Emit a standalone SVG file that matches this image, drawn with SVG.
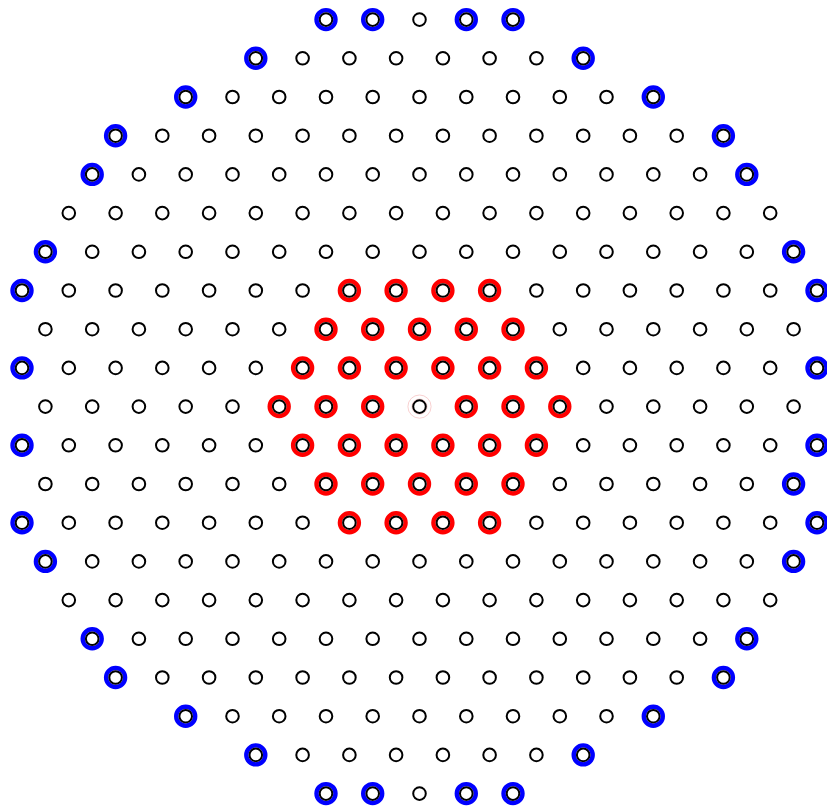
<svg xmlns="http://www.w3.org/2000/svg" xmlns:xlink="http://www.w3.org/1999/xlink" width="827" height="807" viewBox="0 0 827 807">
<style>
.k{fill:#fff;stroke:#000;stroke-width:2}
.bl{fill:none;stroke:#0000ff;stroke-width:4.4}
.rd{fill:none;stroke:#ff0000;stroke-width:4.4}
.pk{fill:none;stroke:#f6c4c4;stroke-width:0.8}
</style>
<defs>
<circle id="P" class="k" r="6.3"/>
<g id="B"><circle class="bl" r="9.5"/><circle class="k" r="6.3"/></g>
<g id="R"><circle class="rd" r="9.5"/><circle class="k" r="6.3"/></g>
<g id="C"><circle class="pk" r="11.6"/><circle class="pk" r="7.6"/><circle class="k" r="6.3"/></g>
</defs>
<rect width="827" height="807" fill="#fff"/>
<g id="connectors"/>
<g id="nodes">
<!-- row 0 -->
<g id="n0-0"><use href="#B" x="326" y="19.6"/></g>
<g id="n0-1"><use href="#B" x="372.7" y="19.6"/></g>
<g id="n0-2"><use href="#P" x="419.5" y="19.6"/></g>
<g id="n0-3"><use href="#B" x="466.3" y="19.6"/></g>
<g id="n0-4"><use href="#B" x="513" y="19.6"/></g>
<!-- row 1 -->
<g id="n1-0"><use href="#B" x="255.8" y="58.3"/></g>
<g id="n1-1"><use href="#P" x="302.6" y="58.3"/></g>
<g id="n1-2"><use href="#P" x="349.4" y="58.3"/></g>
<g id="n1-3"><use href="#P" x="396.1" y="58.3"/></g>
<g id="n1-4"><use href="#P" x="442.9" y="58.3"/></g>
<g id="n1-5"><use href="#P" x="489.6" y="58.3"/></g>
<g id="n1-6"><use href="#P" x="536.4" y="58.3"/></g>
<g id="n1-7"><use href="#B" x="583.2" y="58.3"/></g>
<!-- row 2 -->
<g id="n2-0"><use href="#B" x="185.7" y="97"/></g>
<g id="n2-1"><use href="#P" x="232.5" y="97"/></g>
<g id="n2-2"><use href="#P" x="279.2" y="97"/></g>
<g id="n2-3"><use href="#P" x="326" y="97"/></g>
<g id="n2-4"><use href="#P" x="372.7" y="97"/></g>
<g id="n2-5"><use href="#P" x="419.5" y="97"/></g>
<g id="n2-6"><use href="#P" x="466.3" y="97"/></g>
<g id="n2-7"><use href="#P" x="513" y="97"/></g>
<g id="n2-8"><use href="#P" x="559.8" y="97"/></g>
<g id="n2-9"><use href="#P" x="606.5" y="97"/></g>
<g id="n2-10"><use href="#B" x="653.3" y="97"/></g>
<!-- row 3 -->
<g id="n3-0"><use href="#B" x="115.6" y="135.7"/></g>
<g id="n3-1"><use href="#P" x="162.3" y="135.7"/></g>
<g id="n3-2"><use href="#P" x="209.1" y="135.7"/></g>
<g id="n3-3"><use href="#P" x="255.8" y="135.7"/></g>
<g id="n3-4"><use href="#P" x="302.6" y="135.7"/></g>
<g id="n3-5"><use href="#P" x="349.4" y="135.7"/></g>
<g id="n3-6"><use href="#P" x="396.1" y="135.7"/></g>
<g id="n3-7"><use href="#P" x="442.9" y="135.7"/></g>
<g id="n3-8"><use href="#P" x="489.6" y="135.7"/></g>
<g id="n3-9"><use href="#P" x="536.4" y="135.7"/></g>
<g id="n3-10"><use href="#P" x="583.2" y="135.7"/></g>
<g id="n3-11"><use href="#P" x="629.9" y="135.7"/></g>
<g id="n3-12"><use href="#P" x="676.7" y="135.7"/></g>
<g id="n3-13"><use href="#B" x="723.4" y="135.7"/></g>
<!-- row 4 -->
<g id="n4-0"><use href="#B" x="92.2" y="174.4"/></g>
<g id="n4-1"><use href="#P" x="138.9" y="174.4"/></g>
<g id="n4-2"><use href="#P" x="185.7" y="174.4"/></g>
<g id="n4-3"><use href="#P" x="232.5" y="174.4"/></g>
<g id="n4-4"><use href="#P" x="279.2" y="174.4"/></g>
<g id="n4-5"><use href="#P" x="326" y="174.4"/></g>
<g id="n4-6"><use href="#P" x="372.7" y="174.4"/></g>
<g id="n4-7"><use href="#P" x="419.5" y="174.4"/></g>
<g id="n4-8"><use href="#P" x="466.3" y="174.4"/></g>
<g id="n4-9"><use href="#P" x="513" y="174.4"/></g>
<g id="n4-10"><use href="#P" x="559.8" y="174.4"/></g>
<g id="n4-11"><use href="#P" x="606.5" y="174.4"/></g>
<g id="n4-12"><use href="#P" x="653.3" y="174.4"/></g>
<g id="n4-13"><use href="#P" x="700.1" y="174.4"/></g>
<g id="n4-14"><use href="#B" x="746.8" y="174.4"/></g>
<!-- row 5 -->
<g id="n5-0"><use href="#P" x="68.8" y="213.1"/></g>
<g id="n5-1"><use href="#P" x="115.6" y="213.1"/></g>
<g id="n5-2"><use href="#P" x="162.3" y="213.1"/></g>
<g id="n5-3"><use href="#P" x="209.1" y="213.1"/></g>
<g id="n5-4"><use href="#P" x="255.8" y="213.1"/></g>
<g id="n5-5"><use href="#P" x="302.6" y="213.1"/></g>
<g id="n5-6"><use href="#P" x="349.4" y="213.1"/></g>
<g id="n5-7"><use href="#P" x="396.1" y="213.1"/></g>
<g id="n5-8"><use href="#P" x="442.9" y="213.1"/></g>
<g id="n5-9"><use href="#P" x="489.6" y="213.1"/></g>
<g id="n5-10"><use href="#P" x="536.4" y="213.1"/></g>
<g id="n5-11"><use href="#P" x="583.2" y="213.1"/></g>
<g id="n5-12"><use href="#P" x="629.9" y="213.1"/></g>
<g id="n5-13"><use href="#P" x="676.7" y="213.1"/></g>
<g id="n5-14"><use href="#P" x="723.4" y="213.1"/></g>
<g id="n5-15"><use href="#P" x="770.2" y="213.1"/></g>
<!-- row 6 -->
<g id="n6-0"><use href="#B" x="45.4" y="251.8"/></g>
<g id="n6-1"><use href="#P" x="92.2" y="251.8"/></g>
<g id="n6-2"><use href="#P" x="138.9" y="251.8"/></g>
<g id="n6-3"><use href="#P" x="185.7" y="251.8"/></g>
<g id="n6-4"><use href="#P" x="232.5" y="251.8"/></g>
<g id="n6-5"><use href="#P" x="279.2" y="251.8"/></g>
<g id="n6-6"><use href="#P" x="326" y="251.8"/></g>
<g id="n6-7"><use href="#P" x="372.7" y="251.8"/></g>
<g id="n6-8"><use href="#P" x="419.5" y="251.8"/></g>
<g id="n6-9"><use href="#P" x="466.3" y="251.8"/></g>
<g id="n6-10"><use href="#P" x="513" y="251.8"/></g>
<g id="n6-11"><use href="#P" x="559.8" y="251.8"/></g>
<g id="n6-12"><use href="#P" x="606.5" y="251.8"/></g>
<g id="n6-13"><use href="#P" x="653.3" y="251.8"/></g>
<g id="n6-14"><use href="#P" x="700.1" y="251.8"/></g>
<g id="n6-15"><use href="#P" x="746.8" y="251.8"/></g>
<g id="n6-16"><use href="#B" x="793.6" y="251.8"/></g>
<!-- row 7 -->
<g id="n7-0"><use href="#B" x="22" y="290.5"/></g>
<g id="n7-1"><use href="#P" x="68.8" y="290.5"/></g>
<g id="n7-2"><use href="#P" x="115.6" y="290.5"/></g>
<g id="n7-3"><use href="#P" x="162.3" y="290.5"/></g>
<g id="n7-4"><use href="#P" x="209.1" y="290.5"/></g>
<g id="n7-5"><use href="#P" x="255.8" y="290.5"/></g>
<g id="n7-6"><use href="#P" x="302.6" y="290.5"/></g>
<g id="n7-7"><use href="#R" x="349.4" y="290.5"/></g>
<g id="n7-8"><use href="#R" x="396.1" y="290.5"/></g>
<g id="n7-9"><use href="#R" x="442.9" y="290.5"/></g>
<g id="n7-10"><use href="#R" x="489.6" y="290.5"/></g>
<g id="n7-11"><use href="#P" x="536.4" y="290.5"/></g>
<g id="n7-12"><use href="#P" x="583.2" y="290.5"/></g>
<g id="n7-13"><use href="#P" x="629.9" y="290.5"/></g>
<g id="n7-14"><use href="#P" x="676.7" y="290.5"/></g>
<g id="n7-15"><use href="#P" x="723.4" y="290.5"/></g>
<g id="n7-16"><use href="#P" x="770.2" y="290.5"/></g>
<g id="n7-17"><use href="#B" x="817" y="290.5"/></g>
<!-- row 8 -->
<g id="n8-0"><use href="#P" x="45.4" y="329.2"/></g>
<g id="n8-1"><use href="#P" x="92.2" y="329.2"/></g>
<g id="n8-2"><use href="#P" x="138.9" y="329.2"/></g>
<g id="n8-3"><use href="#P" x="185.7" y="329.2"/></g>
<g id="n8-4"><use href="#P" x="232.5" y="329.2"/></g>
<g id="n8-5"><use href="#P" x="279.2" y="329.2"/></g>
<g id="n8-6"><use href="#R" x="326" y="329.2"/></g>
<g id="n8-7"><use href="#R" x="372.7" y="329.2"/></g>
<g id="n8-8"><use href="#R" x="419.5" y="329.2"/></g>
<g id="n8-9"><use href="#R" x="466.3" y="329.2"/></g>
<g id="n8-10"><use href="#R" x="513" y="329.2"/></g>
<g id="n8-11"><use href="#P" x="559.8" y="329.2"/></g>
<g id="n8-12"><use href="#P" x="606.5" y="329.2"/></g>
<g id="n8-13"><use href="#P" x="653.3" y="329.2"/></g>
<g id="n8-14"><use href="#P" x="700.1" y="329.2"/></g>
<g id="n8-15"><use href="#P" x="746.8" y="329.2"/></g>
<g id="n8-16"><use href="#P" x="793.6" y="329.2"/></g>
<!-- row 9 -->
<g id="n9-0"><use href="#B" x="22" y="367.9"/></g>
<g id="n9-1"><use href="#P" x="68.8" y="367.9"/></g>
<g id="n9-2"><use href="#P" x="115.6" y="367.9"/></g>
<g id="n9-3"><use href="#P" x="162.3" y="367.9"/></g>
<g id="n9-4"><use href="#P" x="209.1" y="367.9"/></g>
<g id="n9-5"><use href="#P" x="255.8" y="367.9"/></g>
<g id="n9-6"><use href="#R" x="302.6" y="367.9"/></g>
<g id="n9-7"><use href="#R" x="349.4" y="367.9"/></g>
<g id="n9-8"><use href="#R" x="396.1" y="367.9"/></g>
<g id="n9-9"><use href="#R" x="442.9" y="367.9"/></g>
<g id="n9-10"><use href="#R" x="489.6" y="367.9"/></g>
<g id="n9-11"><use href="#R" x="536.4" y="367.9"/></g>
<g id="n9-12"><use href="#P" x="583.2" y="367.9"/></g>
<g id="n9-13"><use href="#P" x="629.9" y="367.9"/></g>
<g id="n9-14"><use href="#P" x="676.7" y="367.9"/></g>
<g id="n9-15"><use href="#P" x="723.4" y="367.9"/></g>
<g id="n9-16"><use href="#P" x="770.2" y="367.9"/></g>
<g id="n9-17"><use href="#B" x="817" y="367.9"/></g>
<!-- row 10 -->
<g id="n10-0"><use href="#P" x="45.4" y="406.6"/></g>
<g id="n10-1"><use href="#P" x="92.2" y="406.6"/></g>
<g id="n10-2"><use href="#P" x="138.9" y="406.6"/></g>
<g id="n10-3"><use href="#P" x="185.7" y="406.6"/></g>
<g id="n10-4"><use href="#P" x="232.5" y="406.6"/></g>
<g id="n10-5"><use href="#R" x="279.2" y="406.6"/></g>
<g id="n10-6"><use href="#R" x="326" y="406.6"/></g>
<g id="n10-7"><use href="#R" x="372.7" y="406.6"/></g>
<g id="n10-8"><use href="#C" x="419.5" y="406.6"/></g>
<g id="n10-9"><use href="#R" x="466.3" y="406.6"/></g>
<g id="n10-10"><use href="#R" x="513" y="406.6"/></g>
<g id="n10-11"><use href="#R" x="559.8" y="406.6"/></g>
<g id="n10-12"><use href="#P" x="606.5" y="406.6"/></g>
<g id="n10-13"><use href="#P" x="653.3" y="406.6"/></g>
<g id="n10-14"><use href="#P" x="700.1" y="406.6"/></g>
<g id="n10-15"><use href="#P" x="746.8" y="406.6"/></g>
<g id="n10-16"><use href="#P" x="793.6" y="406.6"/></g>
<!-- row 11 -->
<g id="n11-0"><use href="#B" x="22" y="445.3"/></g>
<g id="n11-1"><use href="#P" x="68.8" y="445.3"/></g>
<g id="n11-2"><use href="#P" x="115.6" y="445.3"/></g>
<g id="n11-3"><use href="#P" x="162.3" y="445.3"/></g>
<g id="n11-4"><use href="#P" x="209.1" y="445.3"/></g>
<g id="n11-5"><use href="#P" x="255.8" y="445.3"/></g>
<g id="n11-6"><use href="#R" x="302.6" y="445.3"/></g>
<g id="n11-7"><use href="#R" x="349.4" y="445.3"/></g>
<g id="n11-8"><use href="#R" x="396.1" y="445.3"/></g>
<g id="n11-9"><use href="#R" x="442.9" y="445.3"/></g>
<g id="n11-10"><use href="#R" x="489.6" y="445.3"/></g>
<g id="n11-11"><use href="#R" x="536.4" y="445.3"/></g>
<g id="n11-12"><use href="#P" x="583.2" y="445.3"/></g>
<g id="n11-13"><use href="#P" x="629.9" y="445.3"/></g>
<g id="n11-14"><use href="#P" x="676.7" y="445.3"/></g>
<g id="n11-15"><use href="#P" x="723.4" y="445.3"/></g>
<g id="n11-16"><use href="#P" x="770.2" y="445.3"/></g>
<g id="n11-17"><use href="#B" x="817" y="445.3"/></g>
<!-- row 12 -->
<g id="n12-0"><use href="#P" x="45.4" y="484"/></g>
<g id="n12-1"><use href="#P" x="92.2" y="484"/></g>
<g id="n12-2"><use href="#P" x="138.9" y="484"/></g>
<g id="n12-3"><use href="#P" x="185.7" y="484"/></g>
<g id="n12-4"><use href="#P" x="232.5" y="484"/></g>
<g id="n12-5"><use href="#P" x="279.2" y="484"/></g>
<g id="n12-6"><use href="#R" x="326" y="484"/></g>
<g id="n12-7"><use href="#R" x="372.7" y="484"/></g>
<g id="n12-8"><use href="#R" x="419.5" y="484"/></g>
<g id="n12-9"><use href="#R" x="466.3" y="484"/></g>
<g id="n12-10"><use href="#R" x="513" y="484"/></g>
<g id="n12-11"><use href="#P" x="559.8" y="484"/></g>
<g id="n12-12"><use href="#P" x="606.5" y="484"/></g>
<g id="n12-13"><use href="#P" x="653.3" y="484"/></g>
<g id="n12-14"><use href="#P" x="700.1" y="484"/></g>
<g id="n12-15"><use href="#P" x="746.8" y="484"/></g>
<g id="n12-16"><use href="#B" x="793.6" y="484"/></g>
<!-- row 13 -->
<g id="n13-0"><use href="#B" x="22" y="522.7"/></g>
<g id="n13-1"><use href="#P" x="68.8" y="522.7"/></g>
<g id="n13-2"><use href="#P" x="115.6" y="522.7"/></g>
<g id="n13-3"><use href="#P" x="162.3" y="522.7"/></g>
<g id="n13-4"><use href="#P" x="209.1" y="522.7"/></g>
<g id="n13-5"><use href="#P" x="255.8" y="522.7"/></g>
<g id="n13-6"><use href="#P" x="302.6" y="522.7"/></g>
<g id="n13-7"><use href="#R" x="349.4" y="522.7"/></g>
<g id="n13-8"><use href="#R" x="396.1" y="522.7"/></g>
<g id="n13-9"><use href="#R" x="442.9" y="522.7"/></g>
<g id="n13-10"><use href="#R" x="489.6" y="522.7"/></g>
<g id="n13-11"><use href="#P" x="536.4" y="522.7"/></g>
<g id="n13-12"><use href="#P" x="583.2" y="522.7"/></g>
<g id="n13-13"><use href="#P" x="629.9" y="522.7"/></g>
<g id="n13-14"><use href="#P" x="676.7" y="522.7"/></g>
<g id="n13-15"><use href="#P" x="723.4" y="522.7"/></g>
<g id="n13-16"><use href="#P" x="770.2" y="522.7"/></g>
<g id="n13-17"><use href="#B" x="817" y="522.7"/></g>
<!-- row 14 -->
<g id="n14-0"><use href="#B" x="45.4" y="561.4"/></g>
<g id="n14-1"><use href="#P" x="92.2" y="561.4"/></g>
<g id="n14-2"><use href="#P" x="138.9" y="561.4"/></g>
<g id="n14-3"><use href="#P" x="185.7" y="561.4"/></g>
<g id="n14-4"><use href="#P" x="232.5" y="561.4"/></g>
<g id="n14-5"><use href="#P" x="279.2" y="561.4"/></g>
<g id="n14-6"><use href="#P" x="326" y="561.4"/></g>
<g id="n14-7"><use href="#P" x="372.7" y="561.4"/></g>
<g id="n14-8"><use href="#P" x="419.5" y="561.4"/></g>
<g id="n14-9"><use href="#P" x="466.3" y="561.4"/></g>
<g id="n14-10"><use href="#P" x="513" y="561.4"/></g>
<g id="n14-11"><use href="#P" x="559.8" y="561.4"/></g>
<g id="n14-12"><use href="#P" x="606.5" y="561.4"/></g>
<g id="n14-13"><use href="#P" x="653.3" y="561.4"/></g>
<g id="n14-14"><use href="#P" x="700.1" y="561.4"/></g>
<g id="n14-15"><use href="#P" x="746.8" y="561.4"/></g>
<g id="n14-16"><use href="#B" x="793.6" y="561.4"/></g>
<!-- row 15 -->
<g id="n15-0"><use href="#P" x="68.8" y="600.1"/></g>
<g id="n15-1"><use href="#P" x="115.6" y="600.1"/></g>
<g id="n15-2"><use href="#P" x="162.3" y="600.1"/></g>
<g id="n15-3"><use href="#P" x="209.1" y="600.1"/></g>
<g id="n15-4"><use href="#P" x="255.8" y="600.1"/></g>
<g id="n15-5"><use href="#P" x="302.6" y="600.1"/></g>
<g id="n15-6"><use href="#P" x="349.4" y="600.1"/></g>
<g id="n15-7"><use href="#P" x="396.1" y="600.1"/></g>
<g id="n15-8"><use href="#P" x="442.9" y="600.1"/></g>
<g id="n15-9"><use href="#P" x="489.6" y="600.1"/></g>
<g id="n15-10"><use href="#P" x="536.4" y="600.1"/></g>
<g id="n15-11"><use href="#P" x="583.2" y="600.1"/></g>
<g id="n15-12"><use href="#P" x="629.9" y="600.1"/></g>
<g id="n15-13"><use href="#P" x="676.7" y="600.1"/></g>
<g id="n15-14"><use href="#P" x="723.4" y="600.1"/></g>
<g id="n15-15"><use href="#P" x="770.2" y="600.1"/></g>
<!-- row 16 -->
<g id="n16-0"><use href="#B" x="92.2" y="638.8"/></g>
<g id="n16-1"><use href="#P" x="138.9" y="638.8"/></g>
<g id="n16-2"><use href="#P" x="185.7" y="638.8"/></g>
<g id="n16-3"><use href="#P" x="232.5" y="638.8"/></g>
<g id="n16-4"><use href="#P" x="279.2" y="638.8"/></g>
<g id="n16-5"><use href="#P" x="326" y="638.8"/></g>
<g id="n16-6"><use href="#P" x="372.7" y="638.8"/></g>
<g id="n16-7"><use href="#P" x="419.5" y="638.8"/></g>
<g id="n16-8"><use href="#P" x="466.3" y="638.8"/></g>
<g id="n16-9"><use href="#P" x="513" y="638.8"/></g>
<g id="n16-10"><use href="#P" x="559.8" y="638.8"/></g>
<g id="n16-11"><use href="#P" x="606.5" y="638.8"/></g>
<g id="n16-12"><use href="#P" x="653.3" y="638.8"/></g>
<g id="n16-13"><use href="#P" x="700.1" y="638.8"/></g>
<g id="n16-14"><use href="#B" x="746.8" y="638.8"/></g>
<!-- row 17 -->
<g id="n17-0"><use href="#B" x="115.6" y="677.5"/></g>
<g id="n17-1"><use href="#P" x="162.3" y="677.5"/></g>
<g id="n17-2"><use href="#P" x="209.1" y="677.5"/></g>
<g id="n17-3"><use href="#P" x="255.8" y="677.5"/></g>
<g id="n17-4"><use href="#P" x="302.6" y="677.5"/></g>
<g id="n17-5"><use href="#P" x="349.4" y="677.5"/></g>
<g id="n17-6"><use href="#P" x="396.1" y="677.5"/></g>
<g id="n17-7"><use href="#P" x="442.9" y="677.5"/></g>
<g id="n17-8"><use href="#P" x="489.6" y="677.5"/></g>
<g id="n17-9"><use href="#P" x="536.4" y="677.5"/></g>
<g id="n17-10"><use href="#P" x="583.2" y="677.5"/></g>
<g id="n17-11"><use href="#P" x="629.9" y="677.5"/></g>
<g id="n17-12"><use href="#P" x="676.7" y="677.5"/></g>
<g id="n17-13"><use href="#B" x="723.4" y="677.5"/></g>
<!-- row 18 -->
<g id="n18-0"><use href="#B" x="185.7" y="716.2"/></g>
<g id="n18-1"><use href="#P" x="232.5" y="716.2"/></g>
<g id="n18-2"><use href="#P" x="279.2" y="716.2"/></g>
<g id="n18-3"><use href="#P" x="326" y="716.2"/></g>
<g id="n18-4"><use href="#P" x="372.7" y="716.2"/></g>
<g id="n18-5"><use href="#P" x="419.5" y="716.2"/></g>
<g id="n18-6"><use href="#P" x="466.3" y="716.2"/></g>
<g id="n18-7"><use href="#P" x="513" y="716.2"/></g>
<g id="n18-8"><use href="#P" x="559.8" y="716.2"/></g>
<g id="n18-9"><use href="#P" x="606.5" y="716.2"/></g>
<g id="n18-10"><use href="#B" x="653.3" y="716.2"/></g>
<!-- row 19 -->
<g id="n19-0"><use href="#B" x="255.8" y="754.9"/></g>
<g id="n19-1"><use href="#P" x="302.6" y="754.9"/></g>
<g id="n19-2"><use href="#P" x="349.4" y="754.9"/></g>
<g id="n19-3"><use href="#P" x="396.1" y="754.9"/></g>
<g id="n19-4"><use href="#P" x="442.9" y="754.9"/></g>
<g id="n19-5"><use href="#P" x="489.6" y="754.9"/></g>
<g id="n19-6"><use href="#P" x="536.4" y="754.9"/></g>
<g id="n19-7"><use href="#B" x="583.2" y="754.9"/></g>
<!-- row 20 -->
<g id="n20-0"><use href="#B" x="326" y="793.6"/></g>
<g id="n20-1"><use href="#B" x="372.7" y="793.6"/></g>
<g id="n20-2"><use href="#P" x="419.5" y="793.6"/></g>
<g id="n20-3"><use href="#B" x="466.3" y="793.6"/></g>
<g id="n20-4"><use href="#B" x="513" y="793.6"/></g>
</g>
</svg>
